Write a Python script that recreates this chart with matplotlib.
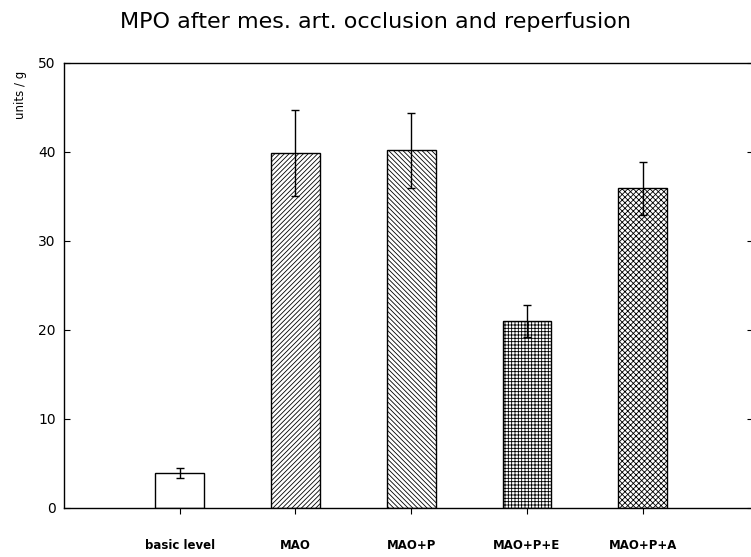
import numpy as np
import matplotlib

matplotlib.use("Agg")
import matplotlib.pyplot as plt

plt.rcParams['font.family'] = ['DejaVu Sans']
plt.rcParams['hatch.linewidth'] = 0.6

groups = ["basic level", "MAO", "MAO+P", "MAO+P+E", "MAO+P+A"]
means = [3.9, 39.9, 40.2, 21.0, 35.9]
errors = [0.55, 4.8, 4.2, 1.8, 3.0]
hatches = ["", "///////", "\\\\\\\\\\\\\\", "+++++", "xxxxxx"]

fig = plt.figure(figsize=(7.51, 5.57), dpi=100)
ax = fig.add_axes([0.0852, 0.088, 0.917, 0.799])

x = np.arange(len(groups))
ax.bar(x, means, width=0.42, color="white", edgecolor="black",
       linewidth=1.0, hatch=hatches, zorder=2)
ax.errorbar(x, means, yerr=errors, fmt="none", ecolor="black",
            elinewidth=1.0, capsize=3, capthick=1.0, zorder=3)

ax.set_xlim(-1.0, 4.95)
ax.set_ylim(0, 50)
ax.set_yticks([0, 10, 20, 30, 40, 50])
ax.set_xticks(x)
ax.set_xticklabels(groups, fontsize=8.5, fontweight="bold")
ax.tick_params(axis="x", direction="out", length=4, pad=18)
ax.tick_params(axis="y", direction="in", length=4, labelsize=10,
               right=True, pad=6)
for s in ax.spines.values():
    s.set_linewidth(1.0)

fig.text(0.027, 0.83, "units / g", rotation=90, ha="center", va="center",
         fontsize=8.5)
fig.text(0.5, 0.96, "MPO after mes. art. occlusion and reperfusion",
         ha="center", va="center", fontsize=16)

fig.savefig("out.png", dpi=100)
